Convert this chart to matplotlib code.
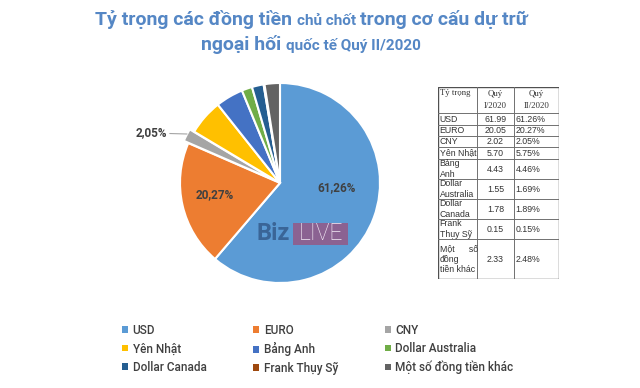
import matplotlib
matplotlib.use('Agg')
import matplotlib.pyplot as plt
from matplotlib.patches import Patch, Rectangle

plt.rcParams['font.family'] = ['Roboto', 'DejaVu Sans']

# du lieu
currencies = ['USD', 'EURO', 'CNY', 'Yên Nhật', 'Bảng Anh', 'Dollar Australia',
              'Dollar Canada', 'Frank Thụy Sỹ', 'Một số đồng tiền khác']
q1_values = [61.99, 20.05, 2.02, 5.70, 4.43, 1.55, 1.78, 0.15, 2.33]
q2_values = [61.26, 20.27, 2.05, 5.75, 4.46, 1.69, 1.89, 0.15, 2.48]
colors = ['#5B9BD5', '#ED7D31', '#A5A5A5', '#FFC000', '#4472C4', '#70AD47',
          '#255E91', '#9E480E', '#636363']
table_names = ['USD', 'EURO', 'CNY', 'Yên Nhật', 'Bảng\nAnh', 'Dollar\nAustralia',
               'Dollar\nCanada', 'Frank\nThụy Sỹ', 'Một      số\nđồng\ntiền khác']
table_header = ['Tỷ trọng', 'Quý\nI/2020', 'Quý\nII/2020']

W, H = 640, 388
fig = plt.figure(figsize=(6.4, 3.88), dpi=100)
fig.patch.set_facecolor('white')

# tieu de voi co chu khac nhau
title_color = '#5587C5'
renderer = fig.canvas.get_renderer()

def mixed_line(parts, xc, y):
    texts = []
    for s, size in parts:
        t = fig.text(0, y / H, s, fontsize=size, fontweight='bold', color=title_color,
                     ha='left', va='baseline')
        texts.append(t)
    widths = [t.get_window_extent(renderer).width for t in texts]
    x = xc - sum(widths) / 2
    for t, w in zip(texts, widths):
        t.set_x(x / W)
        x += w

mixed_line([('Tỷ trọng các đồng tiền ', 14), ('chủ chốt ', 11),
            ('trong cơ cấu dự trữ', 14)], 311, H - 25)
mixed_line([('ngoại hối ', 14), ('quốc tế Quý II/2020', 11)], 311, H - 50)

# bieu do tron
cx, cy, r = 280, 183, 100
ax = fig.add_axes([(cx - r) / W, (H - cy - r) / H, 2 * r / W, 2 * r / H])
explode = [0, 0, 0.05, 0, 0, 0, 0, 0, 0]
wedges, _ = ax.pie(q2_values, colors=colors, startangle=90, counterclock=False,
                   explode=explode, wedgeprops=dict(edgecolor='white', linewidth=1.5))
ax.set_xlim(-1, 1)
ax.set_ylim(-1, 1)
ax.set_aspect('equal')
ax.axis('off')

def pct(v):
    return ('%.2f%%' % v).replace('.', ',')

lab_color = '#404040'
ax.text(0.57, -0.05, pct(q2_values[0]), ha='center', va='center',
        fontsize=8.5, fontweight='bold', color=lab_color)
ax.text(-0.65, -0.12, pct(q2_values[1]), ha='center', va='center',
        fontsize=8.5, fontweight='bold', color=lab_color)
ax.annotate(pct(q2_values[2]), xy=(-0.93, 0.49), xytext=(-1.13, 0.5),
            ha='right', va='center', fontsize=8.5, fontweight='bold', color=lab_color,
            arrowprops=dict(arrowstyle='-', color='#A5A5A5', lw=0.8, shrinkA=0, shrinkB=0))

# logo BizLIVE
fig.text(257 / W, (H - 234) / H, 'Biz', fontsize=17, fontweight='bold', color='#3A6597',
         ha='left', va='center')
fig.patches.append(Rectangle((293 / W, (H - 245) / H), 55 / W, 22 / H, transform=fig.transFigure,
                             facecolor='#8B6292', edgecolor='none'))
fig.text(320.5 / W, (H - 234) / H, 'LIVE', fontsize=16.5, fontweight='light', color='#F4ECF6',
         ha='center', va='center')

# bang
tx0, tx1, ty0, ty1 = 438, 559, 87, 279
tax = fig.add_axes([tx0 / W, (H - ty1) / H, (tx1 - tx0) / W, (ty1 - ty0) / H])
tax.set_xlim(tx0, tx1)
tax.set_ylim(ty1, ty0)
tax.axis('off')
col_x = [438, 477, 514, 559]
row_y = [87, 113, 125, 136, 147, 159, 179, 199, 219, 239, 279]
for y in row_y[1:-1]:
    tax.plot([tx0, tx1], [y, y], color='#707070', lw=0.7)
for x in col_x[1:-1]:
    tax.plot([x, x], [ty0, ty1], color='#707070', lw=0.7)
tax.add_patch(Rectangle((tx0, ty0), tx1 - tx0, ty1 - ty0, fill=False, edgecolor='#505050', lw=1.0))

serif = ['Liberation Serif', 'DejaVu Serif']
sans = ['Liberation Sans', 'DejaVu Sans']
tc = '#333333'
tax.text(col_x[0] + 2, row_y[0] + 2, table_header[0], family=serif, fontsize=6.3, color=tc,
         ha='left', va='top')
for i in (1, 2):
    tax.text((col_x[i] + col_x[i + 1]) / 2, (row_y[0] + row_y[1]) / 2, table_header[i],
             family=serif, fontsize=6.3, color=tc, ha='center', va='center', linespacing=1.5)
for k in range(len(currencies)):
    ym = (row_y[k + 1] + row_y[k + 2]) / 2
    tax.text(col_x[0] + 1.5, ym, table_names[k], family=sans, fontsize=6.3, color=tc,
             ha='left', va='center', linespacing=1.2)
    tax.text((col_x[1] + col_x[2]) / 2, ym, '%.2f' % q1_values[k], family=sans, fontsize=6.3,
             color=tc, ha='center', va='center')
    tax.text(col_x[2] + 1.5, ym, '%.2f%%' % q2_values[k], family=sans, fontsize=6.3,
             color=tc, ha='left', va='center')

# chu thich
handles = [Patch(facecolor=c, edgecolor='none', label=l) for c, l in zip(colors, currencies)]
order = [0, 3, 6, 1, 4, 7, 2, 5, 8]
leg = fig.legend([handles[i] for i in order], [currencies[i] for i in order], ncol=3,
                 loc='upper left', bbox_to_anchor=(122 / W, (H - 324) / H), frameon=False,
                 fontsize=8.5, handlelength=0.5, handleheight=0.5, handletextpad=0.4,
                 columnspacing=3.95, labelspacing=0.45, borderaxespad=0, borderpad=0)
for t in leg.get_texts():
    t.set_color('#404040')
    t.set_fontweight('medium')

fig.savefig('out.png', dpi=100)
